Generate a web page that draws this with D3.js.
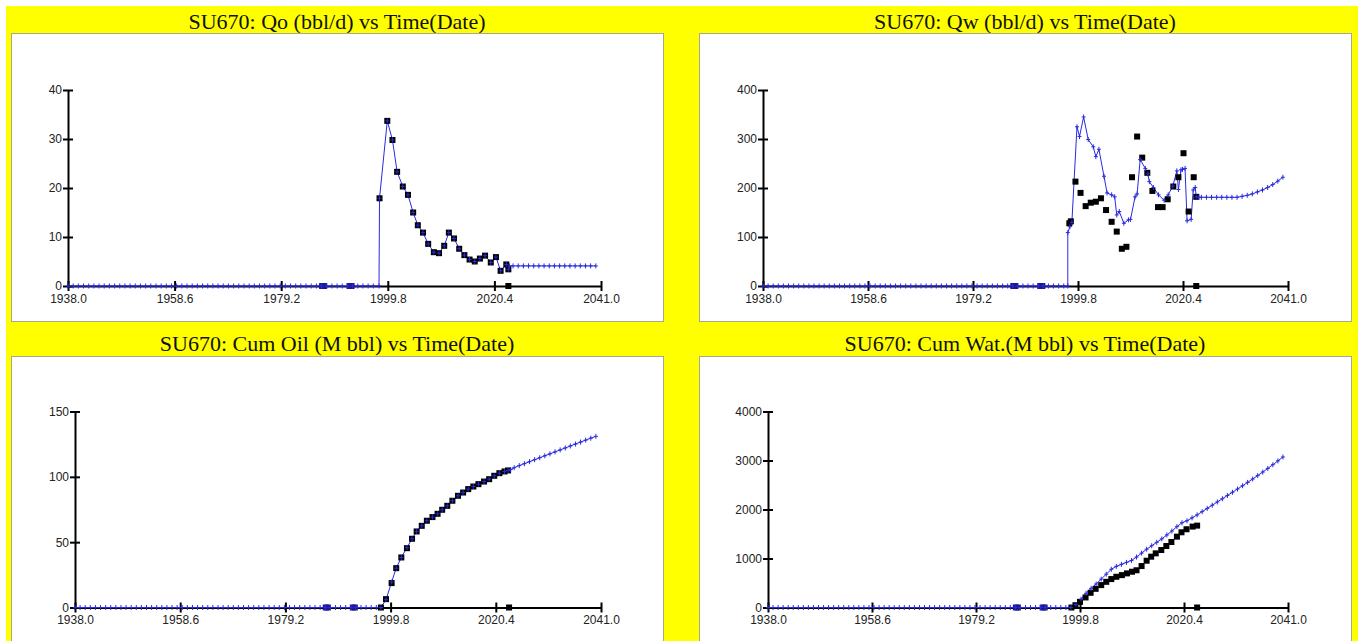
<html>
  <head>
    <title>SU670 production plots</title>
    <meta charset="utf-8" />
    <script src="https://cdnjs.cloudflare.com/ajax/libs/d3/7.6.1/d3.min.js"></script>
    <style>
      body { margin: 0; background: #fff; }
      svg { display: block; }
    </style>
  </head>
  <body>
    <svg width="1358" height="641"></svg>
  </body>

  <script>
    // shared x ticks
    let xTicks = [1938.0, 1958.6, 1979.2, 1999.8, 2020.4, 2041.0];

    // simulation points before production start (all zero)
    let zeroYears = [1938, 1939, 1940, 1941, 1942, 1943, 1944, 1945, 1946, 1947, 1948, 1949,
      1950, 1951, 1952, 1953, 1954, 1955, 1956, 1957, 1958, 1959, 1960, 1961, 1962, 1963,
      1964, 1965, 1966, 1967, 1968, 1969, 1970, 1971, 1972, 1973, 1974, 1975, 1976, 1977,
      1978, 1979, 1980, 1981, 1982, 1983, 1984, 1985, 1986, 1987, 1988, 1989, 1990, 1991,
      1992, 1993, 1994, 1995, 1996, 1997];
    // observed zero readings before production
    let zeroObsYears = [1987.1, 1987.5, 1992.4, 1992.8];

    let forecastYears = [2024, 2025, 2026, 2027, 2028, 2029, 2030, 2031, 2032, 2033, 2034,
      2035, 2036, 2037, 2038, 2039, 2040];

    // Qo (bbl/d)
    let qoObsT = [1998.2, 1999.7, 2000.7, 2001.6, 2002.7, 2003.7, 2004.7, 2005.6, 2006.6, 2007.6,
      2008.7, 2009.7, 2010.7, 2011.6, 2012.6, 2013.6, 2014.6, 2015.6, 2016.6, 2017.6, 2018.6,
      2019.7, 2020.7, 2021.6, 2022.7, 2023.1, 2023.1];
    let qoObs = [17.9, 33.7, 29.8, 23.3, 20.3, 18.6, 15.0, 12.4, 10.9, 8.6, 6.9, 6.7, 8.2, 10.9,
      9.7, 7.6, 6.3, 5.4, 5.0, 5.6, 6.2, 4.8, 5.9, 3.1, 4.4, 3.4, 0];
    let qoSimT = [1998.1, 1998.2, 1999.7, 2000.7, 2001.6, 2002.7, 2003.7, 2004.7, 2005.6, 2006.6,
      2007.6, 2008.7, 2009.7, 2010.7, 2011.6, 2012.6, 2013.6, 2014.6, 2015.6, 2016.6, 2017.6,
      2018.6, 2019.7, 2020.7, 2021.6, 2022.7, 2023.1, 2023.3];
    let qoSim = [0, 17.9, 33.7, 29.8, 23.3, 20.3, 18.6, 15.0, 12.4, 10.9, 8.6, 6.9, 6.7, 8.2, 10.9,
      9.7, 7.6, 6.3, 5.4, 5.0, 5.6, 6.2, 4.8, 5.9, 3.1, 4.4, 3.4, 4.1];
    let qoFcst = [4.1, 4.1, 4.1, 4.1, 4.1, 4.1, 4.1, 4.1, 4.1, 4.1, 4.1, 4.1, 4.1, 4.1, 4.1, 4.1, 4.1];

    // Qw (bbl/d)
    let qwObsT = [1998.1, 1998.4, 1999.3, 2000.3, 2001.3, 2002.3, 2003.3, 2004.3, 2005.3, 2006.4,
      2007.4, 2008.4, 2009.3, 2010.4, 2011.4, 2012.4, 2013.4, 2014.4, 2015.5, 2016.4, 2017.4,
      2018.5, 2019.5, 2020.5, 2021.5, 2022.5, 2023.0, 2023.0];
    let qwObs = [128, 132, 213, 190, 163, 170, 172, 179, 155, 131, 111, 76, 80, 222, 305, 262, 231,
      194, 161, 161, 177, 203, 222, 271, 152, 222, 182, 0];
    let qwSimT = [1997.8, 1997.8, 1998.2, 1998.6, 1999.6, 2000.1, 2000.9, 2001.8, 2002.8, 2003.3,
      2003.9, 2004.9, 2005.5, 2006.4, 2007.0, 2007.4, 2007.9, 2008.8, 2009.7, 2010.1, 2011.0,
      2011.4, 2012.0, 2013.0, 2013.5, 2013.8, 2014.6, 2015.6, 2016.7, 2017.5, 2018.4, 2019.2,
      2019.5, 2020.0, 2020.3, 2020.8, 2021.2, 2022.0, 2022.4, 2022.8, 2023.0, 2023.5];
    let qwSim = [0, 109, 121, 130, 325, 305, 345, 299, 284, 264, 279, 224, 190, 186, 182, 145, 152,
      128, 135, 136, 182, 188, 258, 240, 229, 213, 201, 186, 175, 186, 204, 235, 197, 237, 238,
      240, 133, 136, 196, 201, 182, 181];
    let qwFcst = [181, 181, 181, 181, 181, 181, 181, 181, 183, 185, 188, 192, 196, 201, 207, 214, 222];

    // Cum Oil (M bbl)
    let coObsT = [1997.9, 1998.9, 2000.0, 2000.9, 2001.9, 2003.0, 2004.0, 2004.9, 2005.9, 2006.9,
      2008.0, 2009.0, 2009.9, 2010.9, 2011.9, 2013.0, 2014.0, 2015.0, 2016.0, 2017.0, 2018.1,
      2019.1, 2020.1, 2021.1, 2022.1, 2022.8, 2023.0];
    let coObs = [0, 6.4, 18.7, 30.1, 38.3, 45.4, 52.6, 58.2, 62.5, 66.4, 69.2, 71.7, 74.8, 77.8,
      81.7, 85.5, 88.0, 90.6, 92.6, 94.4, 96.4, 98.2, 100.8, 102.8, 104.1, 104.9, 0];
    let coSimT = [1997.9, 1998.9, 2000.0, 2000.9, 2001.9, 2003.0, 2004.0, 2004.9, 2005.9, 2006.9,
      2008.0, 2009.0, 2009.9, 2010.9, 2011.9, 2013.0, 2014.0, 2015.0, 2016.0, 2017.0, 2018.1,
      2019.1, 2020.1, 2021.1, 2022.1, 2022.8, 2023.3];
    let coSim = [0, 6.0, 19.5, 30.1, 38.3, 45.8, 52.6, 58.2, 62.5, 66.4, 69.2, 71.7, 74.8, 77.8,
      81.7, 85.5, 88.0, 90.6, 92.6, 94.4, 96.4, 98.2, 100.8, 102.8, 104.1, 104.9, 105.5];
    let coFcst = [107.0, 108.6, 110.1, 111.6, 113.1, 114.6, 116.1, 117.6, 119.1, 120.6, 122.1,
      123.6, 125.1, 126.6, 128.1, 129.6, 131.0];

    // Cum Wat (M bbl)
    let cwObsT = [1998.1, 1998.9, 1999.8, 2000.9, 2001.9, 2002.9, 2004.0, 2005.0, 2006.0, 2007.0,
      2008.1, 2009.1, 2010.1, 2011.0, 2012.0, 2013.0, 2013.9, 2014.8, 2015.9, 2016.9, 2017.9,
      2019.0, 2019.9, 2020.9, 2022.1, 2023.0, 2023.0];
    let cwObs = [0, 47, 115, 205, 300, 381, 457, 524, 580, 627, 661, 696, 730, 760, 846, 955, 1037,
      1105, 1173, 1255, 1337, 1446, 1535, 1597, 1651, 1671, 0];
    let cwSimT = [1998.0, 1999.0, 2000.0, 2001.0, 2002.0, 2003.0, 2004.0, 2005.0, 2006.0, 2007.0,
      2008.0, 2009.0, 2010.0, 2011.0, 2012.0, 2013.0, 2014.0, 2015.0, 2016.0, 2017.0, 2018.0,
      2019.0, 2020.0, 2021.0, 2022.0, 2023.0];
    let cwSim = [0, 60, 170, 290, 390, 480, 580, 680, 780, 840, 880, 920, 960, 1030, 1110, 1190,
      1260, 1330, 1400, 1480, 1560, 1650, 1730, 1770, 1830, 1890];
    let cwFcst = [1956, 2022, 2088, 2154, 2220, 2286, 2352, 2418, 2485, 2553, 2622, 2692, 2764,
      2838, 2914, 2992, 3072];

    let panels = [
      { title: "SU670: Qo (bbl/d) vs Time(Date)", yTicks: [0, 10, 20, 30, 40],
        obsT: qoObsT, obs: qoObs, simT: qoSimT, sim: qoSim, fcst: qoFcst,
        bx: 11, by: 33, ax: 68, ay: 286, tx: 337, ty: 29 },
      { title: "SU670: Qw (bbl/d) vs Time(Date)", yTicks: [0, 100, 200, 300, 400],
        obsT: qwObsT, obs: qwObs, simT: qwSimT, sim: qwSim, fcst: qwFcst,
        bx: 699, by: 33, ax: 763, ay: 286, tx: 1025, ty: 29 },
      { title: "SU670: Cum Oil (M bbl) vs Time(Date)", yTicks: [0, 50, 100, 150],
        obsT: coObsT, obs: coObs, simT: coSimT, sim: coSim, fcst: coFcst,
        bx: 11, by: 356, ax: 75, ay: 607.5, tx: 337, ty: 351 },
      { title: "SU670: Cum Wat.(M bbl) vs Time(Date)", yTicks: [0, 1000, 2000, 3000, 4000],
        obsT: cwObsT, obs: cwObs, simT: cwSimT, sim: cwSim, fcst: cwFcst,
        bx: 699, by: 356, ax: 768, ay: 607.5, tx: 1025, ty: 351 }
    ];

    let svg = d3.select("svg");
    svg.append("rect").attr("x", 6).attr("y", 6).attr("width", 1352).attr("height", 636)
      .attr("fill", "#ffff00");

    let blue = "#2a2ae0";

    panels.forEach((p) => {
      let right = p.bx === 11 ? 601 : 1288;
      let x = d3.scaleLinear().domain([1938, 2041]).range([p.ax, right]);
      let y = d3.scaleLinear().domain([0, d3.max(p.yTicks)]).range([p.ay, p.ay - 196]);

      svg.append("text").attr("x", p.tx).attr("y", p.ty)
        .attr("text-anchor", "middle")
        .style("font-family", "'Liberation Serif', 'Times New Roman', serif")
        .style("font-size", "22px").style("fill", "#111")
        .text(p.title);

      svg.append("rect").attr("x", p.bx + 0.5).attr("y", p.by + 0.5)
        .attr("width", 652).attr("height", 288)
        .attr("fill", "#fff").attr("stroke", "#a8a890");

      let g = svg.append("g");

      // axes
      let xAxis = d3.axisBottom(x).tickValues(xTicks).tickSizeInner(5).tickSizeOuter(0)
        .tickFormat(d3.format(".1f"));
      let gx = g.append("g").attr("transform", `translate(0,${p.ay})`).call(xAxis);
      gx.select(".domain").attr("stroke", "#000").attr("stroke-width", 2);
      gx.selectAll(".tick line").attr("y1", -5).attr("y2", 5).attr("stroke", "#000").attr("stroke-width", 2);
      gx.selectAll(".tick text").attr("y", 8)
        .style("font-family", "'Liberation Sans', Arial, sans-serif")
        .style("font-size", "12px").style("fill", "#222");

      let yAxis = d3.axisLeft(y).tickValues(p.yTicks).tickSizeInner(5).tickSizeOuter(0)
        .tickFormat(d3.format("d"));
      let gy = g.append("g").attr("transform", `translate(${p.ax},0)`).call(yAxis);
      gy.select(".domain").attr("stroke", "#000").attr("stroke-width", 2);
      gy.selectAll(".tick line").attr("x1", -5).attr("x2", 5).attr("stroke", "#000").attr("stroke-width", 2);
      gy.selectAll(".tick text").attr("x", -6)
        .style("font-family", "'Liberation Sans', Arial, sans-serif")
        .style("font-size", "12px").style("fill", "#222");
      g.selectAll(".domain").attr("fill", "none");

      // simulation line with + markers
      let simPts = zeroYears.map((t) => [t, 0])
        .concat(d3.zip(p.simT, p.sim))
        .concat(d3.zip(forecastYears, p.fcst));
      let line = d3.line().x((d) => x(d[0])).y((d) => y(d[1]));
      g.append("path").attr("d", line(simPts))
        .attr("fill", "none").attr("stroke", blue).attr("stroke-width", 1);

      // observed squares
      let obsPts = d3.zip(p.obsT, p.obs);
      g.selectAll("rect.obs").data(obsPts).enter().append("rect")
        .attr("class", "obs")
        .attr("x", (d) => x(d[0]) - 3).attr("y", (d) => y(d[1]) - 3)
        .attr("width", 6).attr("height", 6).attr("fill", "#000");
      g.selectAll("rect.zobs").data(zeroObsYears).enter().append("rect")
        .attr("class", "zobs")
        .attr("x", (d) => x(d) - 3).attr("y", y(0) - 3)
        .attr("width", 6).attr("height", 6).attr("fill", "#1a1a90");

      g.selectAll("path.plus").data(simPts).enter().append("path")
        .attr("class", "plus")
        .attr("d", (d) => {
          let cx = x(d[0]), cy = y(d[1]);
          return `M${cx - 2},${cy}H${cx + 2}M${cx},${cy - 2.5}V${cy + 2.5}`;
        })
        .attr("stroke", blue).attr("stroke-width", 1);
    });
  </script>
</html>
